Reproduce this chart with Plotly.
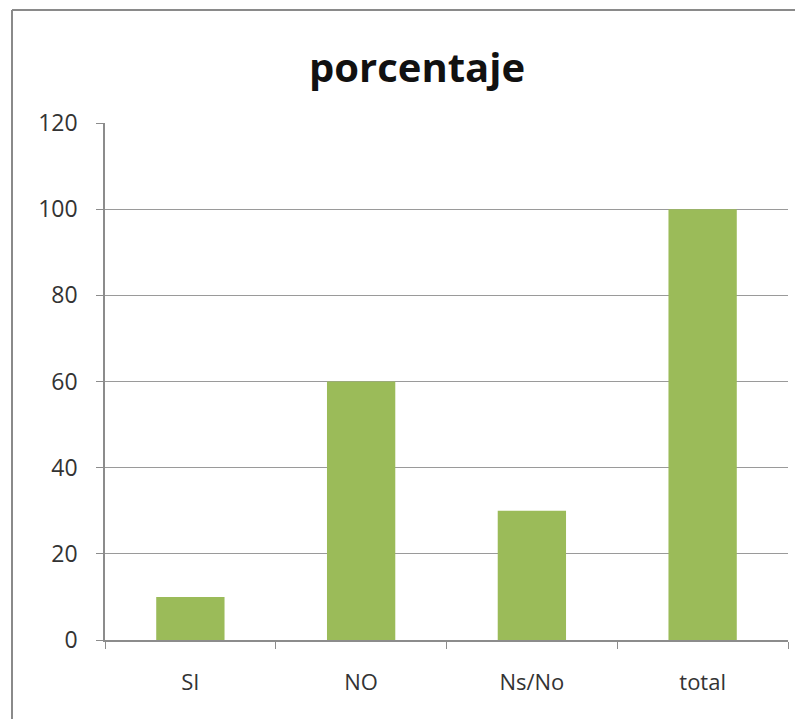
import plotly.graph_objects as go

categories = ["SI", "NO", "Ns/No", "total"]
values = [10, 60, 30, 100]
y_ticks = [0, 20, 40, 60, 80, 100, 120]

# page body has an 8px margin; figure coordinates are page coordinates minus 8
OFF = 8
W, H = 803, 719
L, T = 105 - OFF, 123 - OFF
R = W - (788 - OFF)
B = H - (640 - OFF)
pw, ph = W - L - R, H - T - B

def px(x):
    return (x - OFF - L) / pw

def py(y):
    return (H - B - (y - OFF)) / ph

fig = go.Figure(go.Bar(x=categories, y=values, marker_color="#9BBB59",
                       marker_line_width=0))

fig.update_layout(
    width=W, height=H,
    margin=dict(l=L, r=R, t=T, b=B, pad=0),
    paper_bgcolor="white", plot_bgcolor="white",
    bargap=0.6,
    showlegend=False,
    font=dict(family="Open Sans", color="#222222"),
    title=dict(text="<b>porcentaje</b>", x=px(417), xref="paper", xanchor="center",
               y=1 - (68 - OFF) / H, yanchor="middle",
               font=dict(size=40, family="Open Sans", color="#111111")),
    xaxis=dict(showline=True, linecolor="#8c8c8c", linewidth=1.5,
               ticks="outside", tickson="boundaries", ticklen=7, tickcolor="#8c8c8c",
               tickfont=dict(size=22, color="#333333"), ticklabelstandoff=22,
               showgrid=False),
    yaxis=dict(range=[0, 120], tickvals=y_ticks, showline=True, linecolor="#8c8c8c",
               linewidth=1.5, ticks="outside", ticklen=7, tickcolor="#8c8c8c",
               showgrid=True, gridcolor="#9a9a9a", gridwidth=1,
               tickfont=dict(size=23, color="#333333"), ticklabelstandoff=14,
               zeroline=False),
    shapes=[
        dict(type="line", xref="paper", yref="paper", x0=px(12), x1=px(12),
             y0=py(740), y1=py(10), line=dict(color="#8a8a8a", width=2)),
        dict(type="line", xref="paper", yref="paper", x0=px(12), x1=px(830),
             y0=py(10), y1=py(10), line=dict(color="#8a8a8a", width=2)),
    ],
)

fig.write_html("out.html")
